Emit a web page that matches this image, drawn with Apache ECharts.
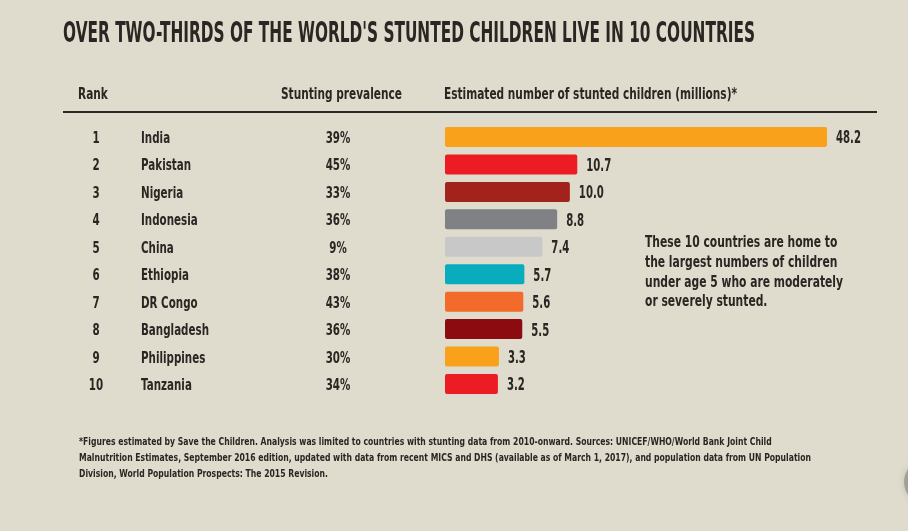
<!DOCTYPE html>
<html><head><meta charset="utf-8">
<script src="https://cdn.jsdelivr.net/npm/echarts@6/dist/echarts.min.js"></script>
<style>html,body{margin:0;padding:0;background:#dfdccd;}#c{width:908px;height:531px;}</style>
</head><body><div id="c"></div>
<script>
const ranks = ['1','2','3','4','5','6','7','8','9','10'];
const countries = ['India','Pakistan','Nigeria','Indonesia','China','Ethiopia','DR Congo','Bangladesh','Philippines','Tanzania'];
const prevalence = ['39%','45%','33%','36%','9%','38%','43%','36%','30%','34%'];
const stunted = [48.2,10.7,10.0,8.8,7.4,5.7,5.6,5.5,3.3,3.2];
const barColors = ['#f9a11b','#ec1c24','#a1231b','#808184','#c8c8c8','#08acbd','#f26b2a','#8c0b10','#f9a11b','#ec1c24'];
const headers = ['Rank','Stunting prevalence','Estimated number of stunted children (millions)*'];
const titleText = "OVER TWO-THIRDS OF THE WORLD'S STUNTED CHILDREN LIVE IN 10 COUNTRIES";
const noteLines = ['These 10 countries are home to','the largest numbers of children','under age 5 who are moderately','or severely stunted.'];
const footLines = [
 '*Figures estimated by Save the Children. Analysis was limited to countries with stunting data from 2010-onward. Sources: UNICEF/WHO/World Bank Joint Child',
 'Malnutrition Estimates, September 2016 edition, updated with data from recent MICS and DHS (available as of March 1, 2017), and population data from UN Population',
 'Division, World Population Prospects: The 2015 Revision.'
];

const FF = '"DejaVu Sans",sans-serif';
const INK = '#2a2623';
const AX_MIN = -1.8, AX_MAX = 34.3;

const mctx = document.createElement('canvas').getContext('2d');
function fit(text, font, w){ mctx.font = font; return w / mctx.measureText(text).width; }

const F_TITLE = 'bold 29px ' + FF;
const F_HEAD = 'bold 15px ' + FF;
const F_ROW = 'bold 15.5px ' + FF;
const F_VAL = 'bold 17px ' + FF;
const F_NOTE = 'bold 16px ' + FF;
const F_FOOT = 'bold 10px ' + FF;
const S_TITLE = fit(titleText, F_TITLE, 692);
const S_HEAD = fit(headers[2], F_HEAD, 293);
const S_ROW = fit('Bangladesh', F_ROW, 68);
const S_VAL = fit('48.2', F_VAL, 25);
const S_NOTE = fit(noteLines[2], F_NOTE, 198);
const S_FOOT = fit(footLines[1], F_FOOT, 732);

function txt(x, y, text, font, sx, align){
  return {type:'text', x:x, y:y, scaleX:sx, style:{x:0, y:0, text:text, font:font, fill:INK, align:align||'left', verticalAlign:'middle'}};
}

const chart = echarts.init(document.getElementById('c'), null, {renderer:'canvas'});
chart.setOption({
  backgroundColor: '#dfdccd',
  animation: false,
  grid: {left: 445, right: 908-827, top: 123.3, bottom: 531-397.7},
  xAxis: {type:'value', min: AX_MIN, max: AX_MAX, show:false},
  yAxis: {type:'category', data: countries, inverse:true, show:false},
  series: [{
    type:'custom',
    clip:false,
    data: stunted.map((v,i)=>[v,i]),
    encode:{x:0,y:1},
    renderItem: function(params, api){
      const i = params.dataIndex;
      const v = api.value(0);
      const s = api.coord([AX_MIN, i]);
      const e = api.coord([Math.min(v, AX_MAX), i]);
      const band = api.size([0,1])[1];
      const h = band*0.73;
      const y = s[1];
      return {type:'group', children:[
        {type:'rect', shape:{x:s[0], y:y-h/2, width:e[0]-s[0], height:h, r:2}, style:{fill:barColors[i]}},
        txt(e[0]+9, y+2, v.toFixed(1), F_VAL, S_VAL, 'left'),
        txt(96, y+2, ranks[i], F_ROW, S_ROW, 'center'),
        txt(141, y+2, countries[i], F_ROW, S_ROW, 'left'),
        txt(338, y+2, prevalence[i], F_ROW, S_ROW, 'center')
      ]};
    }
  }],
  graphic: [
    txt(63, 34, titleText, F_TITLE, S_TITLE),
    txt(78, 95, headers[0], F_HEAD, S_HEAD),
    txt(281, 95, headers[1], F_HEAD, S_HEAD),
    txt(444, 95, headers[2], F_HEAD, S_HEAD),
    {type:'line', shape:{x1:63,y1:112,x2:877,y2:112}, style:{stroke:'#2b2724', lineWidth:1.8}},
    txt(645, 243, noteLines[0], F_NOTE, S_NOTE),
    txt(645, 263, noteLines[1], F_NOTE, S_NOTE),
    txt(645, 283, noteLines[2], F_NOTE, S_NOTE),
    txt(645, 302, noteLines[3], F_NOTE, S_NOTE),
    txt(79, 442, footLines[0], F_FOOT, S_FOOT),
    txt(79, 458, footLines[1], F_FOOT, S_FOOT),
    txt(79, 474, footLines[2], F_FOOT, S_FOOT),
    {type:'circle', shape:{cx:926, cy:482, r:22}, style:{fill:'rgba(130,128,122,0.55)', shadowBlur:6, shadowColor:'rgba(130,128,122,0.6)'}}
  ]
});
</script></body></html>
